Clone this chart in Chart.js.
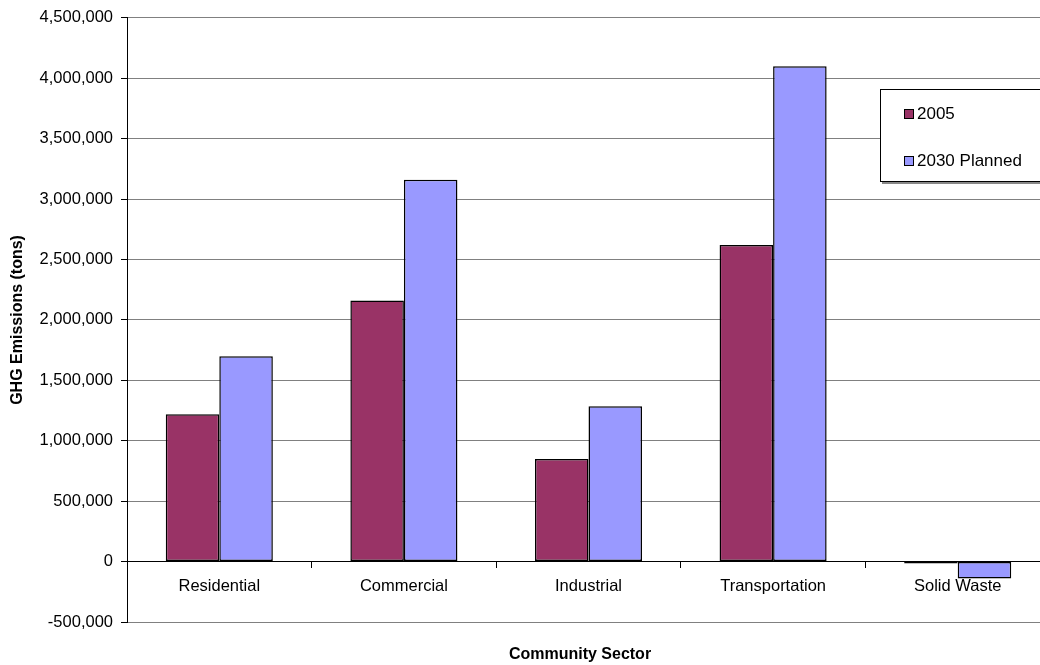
<!DOCTYPE html>
<html>
<head>
<meta charset="utf-8">
<script src="https://cdn.jsdelivr.net/npm/chart.js@4.4.1/dist/chart.umd.min.js"></script>
<style>
  html, body { margin:0; padding:0; background:#fff; overflow:hidden; }
  body { width:1040px; height:665px; position:relative; font-family:"Liberation Sans", Arial, sans-serif; }
  #wrap { position:absolute; left:0; top:0; width:1050px; height:665px; }
  #xTitle { position:absolute; top:645px; left:480px; width:200px; line-height:18px; text-align:center; font-weight:bold; font-size:16px; color:#000; }
  #legend { position:absolute; left:880px; top:89px; width:170px; height:91px; border:1px solid #000; background:#fff;
            box-shadow:2px 2px 0 #888; font-size:17px; }
  .lg-item { position:absolute; left:23px; height:20px; display:flex; align-items:center; white-space:nowrap; }
  .lg-box { width:8px; height:8px; border:1px solid #000; margin-right:3px; }
</style>
</head>
<body>
<div id="wrap"><canvas id="ghgChart"></canvas></div>
<div id="xTitle">Community Sector</div>
<div id="legend"></div>
<script>
// ─── data ──────────────────────────────────────────────────────
const sectors = ['Residential', 'Commercial', 'Industrial', 'Transportation', 'Solid Waste'];
const series = ['2005', '2030 Planned'];
const emis2005 = [1220000, 2160000, 850000, 2620000, -15000];
const emis2030 = [1700000, 3160000, 1285000, 4100000, -140000];
const colors = ['#993366', '#9999FF'];

const yMin = -500000, yMax = 4500000, yStep = 500000;

const fmt = v => v.toLocaleString('en-US');
const tickFont = { family: '"Liberation Sans", Arial', size: 16.5 };

const chart = new Chart(document.getElementById('ghgChart'), {
  type: 'bar',
  data: {
    labels: sectors,
    datasets: series.map((s, i) => ({
      label: s,
      data: i === 0 ? emis2005 : emis2030,
      backgroundColor: colors[i], borderColor: '#000', borderWidth: 1.5, borderSkipped: false,
      barPercentage: 1, categoryPercentage: 0.58
    }))
  },
  options: {
    responsive: true,
    maintainAspectRatio: false,
    animation: false,
    layout: { padding: { top: 16, bottom: 43, left: 0, right: 0 } },
    plugins: { legend: { display: false }, tooltip: { enabled: false } },
    scales: {
      x: {
        position: { y: 0 },
        grid: { offset: true, drawOnChartArea: false, drawTicks: true, tickLength: 6, color: '#000' },
        border: { color: '#000', width: 1 },
        ticks: { color: '#000', font: tickFont, padding: 9 }
      },
      y: {
        min: yMin, max: yMax,
        afterFit: s => { s.width = 127; },
        grid: { color: '#808080', tickLength: 6, tickColor: '#000' },
        border: { color: '#000', width: 1 },
        ticks: { stepSize: yStep, color: '#000', font: tickFont, padding: 8, callback: v => fmt(v) },
        title: { display: true, text: 'GHG Emissions (tons)', color: '#000',
                 font: { family: '"Liberation Sans", Arial', size: 16, weight: 'bold' }, padding: { top: 8, bottom: 0 } }
      }
    }
  }
});

// legend box inside the plot
const lg = document.getElementById('legend');
series.forEach((s, i) => {
  const it = document.createElement('div');
  it.className = 'lg-item';
  it.style.top = (i === 0 ? 14 : 61) + 'px';
  it.innerHTML = `<span class="lg-box" style="background:${colors[i]}"></span>${s}`;
  lg.appendChild(it);
});
</script>
</body>
</html>
